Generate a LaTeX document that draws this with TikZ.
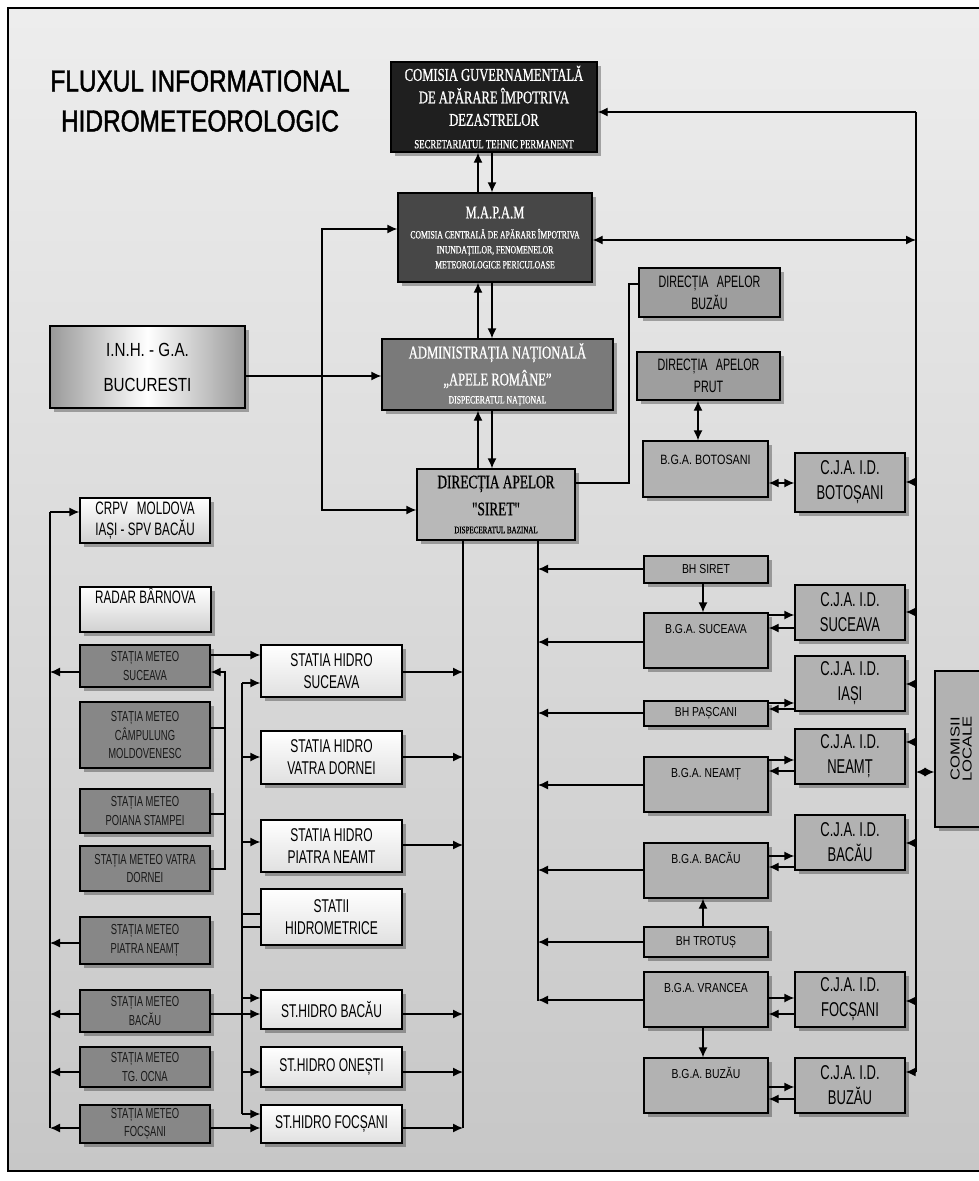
\documentclass[tikz,border=0pt]{standalone}
\usepackage{fontspec}
\setmainfont{Liberation Sans}
\newfontfamily\fnA[FakeStretch=0.8]{Liberation Sans}
\newfontfamily\fnB[FakeStretch=0.65]{Liberation Sans}
\newfontfamily\fnR[FakeStretch=0.7,FakeBold=0.8]{Liberation Serif}
\newfontfamily\fnT[FakeStretch=0.8,FakeBold=1.5]{Liberation Sans}
\usetikzlibrary{arrows.meta,shadows,calc}
\newcommand\fsz[2]{\fontsize{#1}{#2}\selectfont}
\newcommand\bx[7]{\node[#6, minimum width={(#4-#2)*1pt}, minimum height={(#5-#3)*1pt}] (#1) at ({(#2+#4)/2},{(#3+#5)/2}) {#7};}
\begin{document}
\begin{tikzpicture}[x=1pt,y=-1pt,
  box/.style={draw=black, line width=1.3pt, inner sep=0pt, align=center,
    drop shadow={shadow xshift=4pt, shadow yshift=-4pt, fill=black, opacity=0.3}},
  blk/.style={box, fill=black!88, text=white, font=\fnR\fsz{18}{22.5}},
  mapamS/.style={box, fill=black!72, text=white, font=\fnR\fsz{11}{15}},
  anarS/.style={box, fill=black!52, text=white, font=\fnR\fsz{18}{27}},
  siretS/.style={box, fill=black!28, font=\fnR\fsz{19}{27}},
  inhS/.style={box, left color=black!40, right color=black!40, middle color=white, font=\fnA\fsz{19}{35}},
  wbox/.style={box, top color=white, bottom color=black!18},
  met/.style={box, fill=black!47, text=black!90, font=\fnB\fsz{14.5}{18.5}},
  hyd/.style={box, top color=white, bottom color=black!12, font=\fnB\fsz{18.5}{22}},
  lbox/.style={box, fill=black!30},
  dbox/.style={box, fill=black!38, font=\fnB\fsz{16.5}{22}},
  cj/.style={lbox, font=\fnB\fsz{20}{25}},
  bh/.style={lbox, font=\fnA\fsz{13}{15}},
  bgalab/.style={label={[anchor=north, inner sep=0pt, text height=9pt, yshift=-12pt, font=\fnA\fsz{13}{15}]north:{#1}}},
  ln/.style={line width=1.3pt},
  arr/.style={ln, -{Latex[length=10pt,width=9pt]}},
  darr/.style={ln, {Latex[length=10pt,width=9pt]}-{Latex[length=10pt,width=9pt]}}]
\useasboundingbox (0,0) rectangle (979,1181);
\fill[white] (0,0) rectangle (979,1181);
\draw[line width=1.2pt, top color=black!7, bottom color=black!22] (8,8) rectangle (990,1171);

\node[font=\fnT\fsz{30.5}{40}, align=center] (title) at (200,101) {FLUXUL INFORMATIONAL\\HIDROMETEOROLOGIC};

\bx{comm}{391}{62}{597}{152}{blk}{COMISIA GUVERNAMENTALĂ\\DE APĂRARE ÎMPOTRIVA\\DEZASTRELOR\\{\fsz{12.5}{15}SECRETARIATUL TEHNIC PERMANENT}}
\bx{mapam}{398}{193}{592}{282}{mapamS}{{\fsz{18}{15}M.A.P.A.M}\\[5pt]COMISIA CENTRALĂ DE APĂRARE ÎMPOTRIVA\\INUNDAȚIILOR, FENOMENELOR\\METEOROLOGICE PERICULOASE}
\bx{anar}{382}{339}{613}{410}{anarS}{ADMINISTRAȚIA NAȚIONALĂ\\„APELE ROMÂNE”\\[-9pt]{\fsz{11}{13}DISPECERATUL NAȚIONAL}}
\bx{siret}{417}{469}{575}{540}{siretS}{DIRECȚIA APELOR\\"SIRET"\\[-9pt]{\fsz{10}{12}DISPECERATUL BAZINAL}}
\bx{inh}{50}{326}{245}{408}{inhS}{I.N.H. - G.A.\\BUCURESTI}

\bx{crpv}{80}{498}{210}{543}{wbox, font=\fnB\fsz{18}{21}}{CRPV\enspace MOLDOVA\\IAȘI - SPV BACĂU}
\bx{radar}{80}{587}{211}{632}{wbox, label={[anchor=north, inner sep=0pt, text height=13pt, yshift=-4pt, font=\fnB\fsz{18}{21}]north:{RADAR BÂRNOVA}}}{}

\bx{m1}{80}{645}{210}{687}{met}{STAȚIA METEO\\SUCEAVA}
\bx{m2}{80}{702}{210}{768}{met}{STAȚIA METEO\\CÂMPULUNG\\MOLDOVENESC}
\bx{m3}{80}{789}{210}{833}{met}{STAȚIA METEO\\POIANA STAMPEI}
\bx{m4}{80}{846}{210}{891}{met}{STAȚIA METEO VATRA\\DORNEI}
\bx{m5}{80}{917}{210}{964}{met}{STAȚIA METEO\\PIATRA NEAMȚ}
\bx{m6}{80}{990}{210}{1032}{met}{STAȚIA METEO\\BACĂU}
\bx{m7}{80}{1047}{210}{1087}{met}{STAȚIA METEO\\TG. OCNA}
\bx{m8}{80}{1105}{210}{1143}{met}{STAȚIA METEO\\FOCȘANI}

\bx{h1}{261}{645}{402}{697}{hyd}{STATIA HIDRO\\SUCEAVA}
\bx{h2}{261}{731}{402}{784}{hyd}{STATIA HIDRO\\VATRA DORNEI}
\bx{h3}{261}{820}{402}{872}{hyd}{STATIA HIDRO\\PIATRA NEAMT}
\bx{h4}{261}{889}{402}{945}{hyd}{STATII\\HIDROMETRICE}
\bx{h5}{261}{990}{402}{1029}{hyd}{ST.HIDRO BACĂU}
\bx{h6}{261}{1047}{402}{1087}{hyd}{ST.HIDRO ONEȘTI}
\bx{h7}{261}{1105}{402}{1143}{hyd}{ST.HIDRO FOCȘANI}

\bx{dabz}{639}{268}{780}{317}{dbox}{DIRECȚIA\enspace APELOR\\BUZĂU}
\bx{daprut}{637}{352}{780}{400}{dbox}{DIRECȚIA\enspace APELOR\\PRUT}
\bx{bgabt}{643}{441}{768}{497}{lbox, label={[anchor=north, inner sep=0pt, text height=9pt, yshift=-15pt, font=\fnA\fsz{13.5}{15}]north:{B.G.A. BOTOSANI}}}{}
\bx{cjbt}{795}{453}{905}{512}{cj}{C.J.A. I.D.\\BOTOȘANI}
\bx{bhsiret}{644}{556}{768}{583}{bh}{BH SIRET}
\bx{bgasv}{644}{613}{768}{668}{lbox, bgalab=B.G.A. SUCEAVA}{}
\bx{cjsv}{795}{585}{905}{640}{cj}{C.J.A. I.D.\\SUCEAVA}
\bx{cjis}{795}{656}{905}{711}{cj}{C.J.A. I.D.\\IAȘI}
\bx{bhpas}{644}{701}{768}{726}{bh}{BH PAȘCANI}
\bx{cjnt}{795}{729}{905}{784}{cj}{C.J.A. I.D.\\NEAMȚ}
\bx{bgant}{644}{757}{768}{812}{lbox, bgalab=B.G.A. NEAMȚ}{}
\bx{cjbc}{795}{815}{905}{870}{cj}{C.J.A. I.D.\\BACĂU}
\bx{bgabc}{644}{843}{768}{898}{lbox, bgalab=B.G.A. BACĂU}{}
\bx{bhtr}{644}{927}{768}{957}{bh}{BH TROTUȘ}
\bx{bgavr}{644}{972}{768}{1027}{lbox, bgalab=B.G.A. VRANCEA}{}
\bx{cjfc}{795}{972}{905}{1027}{cj}{C.J.A. I.D.\\FOCȘANI}
\bx{bgabz}{644}{1058}{768}{1113}{lbox, bgalab=B.G.A. BUZĂU}{}
\bx{cjbz}{795}{1058}{905}{1113}{cj}{C.J.A. I.D.\\BUZĂU}
\bx{comisii}{935}{671}{990}{827}{lbox, font=\fnA\fsz{13}{15}}{\rotatebox{90}{\scalebox{1.6}[1]{\begin{tabular}{@{}c@{}}COMISII\\[-3pt]LOCALE\end{tabular}}}}

% central stack
\draw[arr] (mapam.north -| 478,0) -- (comm.south -| 478,0);
\draw[arr] (comm.south -| 492,0) -- (mapam.north -| 492,0);
\draw[arr] (anar.north -| 478,0) -- (mapam.south -| 478,0);
\draw[arr] (mapam.south -| 492,0) -- (anar.north -| 492,0);
\draw[arr] (siret.north -| 478,0) -- (anar.south -| 478,0);
\draw[arr] (anar.south -| 492,0) -- (siret.north -| 492,0);
\draw[arr] (inh.east |- 0,376) -- (anar.west |- 0,376);
\draw[darr] (mapam.west |- 0,229) -- (322,229) -- (322,510) -- (siret.west |- 0,510);
\draw[ln] (siret.east |- 0,483) -- (629,483) -- (629,284) -- (dabz.west |- 0,284);
\draw[darr] (daprut.south -| 698,0) -- (bgabt.north -| 698,0);
\draw[darr] (bgabt.east |- 0,483) -- (cjbt.west |- 0,483);

% right trunk
\coordinate (rt) at (916,112);
\draw[ln] (rt) -- (916,1072);
\draw[arr] (rt) -- (comm.east |- rt);
\draw[darr] (mapam.east |- 0,240) -- (916,240);
\foreach \n/\y in {cjbt/482, cjsv/612, cjis/684, cjnt/742, cjbc/843, cjfc/1001, cjbz/1072}
  \draw[arr] (916,\y) -- (\n.east |- 0,\y);
\draw[darr] (916,772) -- (comisii.west |- 0,772);

% Siret trunk
\draw[ln] (siret.south -| 538,0) -- (538,1001);
\foreach \n/\y in {bhsiret/569, bgasv/642, bhpas/713, bgant/785, bgabc/870, bhtr/942, bgavr/1000}
  \draw[arr] (\n.west |- 0,\y) -- (538,\y);
\draw[arr] (bhsiret.south -| 703,0) -- (bgasv.north -| 703,0);
\draw[arr] (bhtr.north -| 703,0) -- (bgabc.south -| 703,0);
\draw[arr] (bgavr.south -| 703,0) -- (bgabz.north -| 703,0);
\foreach \a/\b/\u/\d in {bgasv/cjsv/615/628, bhpas/cjis/703/709, bgant/cjnt/760/771, bgabc/cjbc/856/867, bgavr/cjfc/998/1014, bgabz/cjbz/1087/1099} {
  \draw[arr] (\a.east |- 0,\u) -- (\b.west |- 0,\u);
  \draw[arr] (\b.west |- 0,\d) -- (\a.east |- 0,\d);
}

% hydro trunk
\draw[ln] (siret.south -| 463,0) -- (463,1128);
\foreach \n/\y in {h1/672, h2/757, h3/845, h5/1014, h6/1072, h7/1128}
  \draw[arr] (\n.east |- 0,\y) -- (463,\y);

% meteo trunk
\draw[ln] (50,512) -- (50,1128);
\draw[arr] (50,512) -- (crpv.west |- 0,512);
\foreach \n/\y in {m1/672, m5/943, m6/1014, m7/1072, m8/1128}
  \draw[arr] (\n.west |- 0,\y) -- (50,\y);

% meteo collector
\draw[arr] (m4.east |- 0,869) -- (225,869) -- (225,672) -- (m1.east |- 0,672);
\draw[ln] (m2.east |- 0,728) -- (225,728);
\draw[ln] (m3.east |- 0,814) -- (225,814);
\draw[arr] (m1.east |- 0,655) -- (h1.west |- 0,655);
\draw[arr] (m6.east |- 0,1014) -- (h5.west |- 0,1014);
\draw[arr] (m8.east |- 0,1128) -- (h7.west |- 0,1128);

% hydro feed
\draw[ln] (242,683) -- (242,1114);
\foreach \n/\y in {h1/683, h2/757, h3/842, h5/998, h6/1072, h7/1114}
  \draw[arr] (242,\y) -- (\n.west |- 0,\y);
\draw[ln] (242,914) -- (h4.west |- 0,914);
\draw[ln] (242,927) -- (h4.west |- 0,927);
\end{tikzpicture}
\end{document}
